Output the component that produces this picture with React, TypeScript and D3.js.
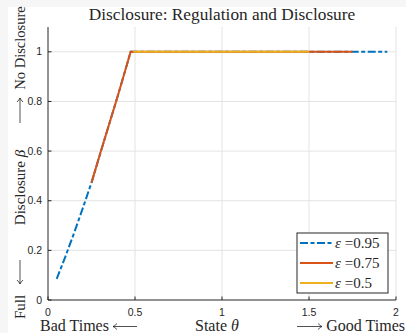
import * as d3 from "d3";
import React from "react";

// data
const thetaBlue = [0.05, 0.1, 0.15, 0.2, 0.25, 0.3, 0.35, 0.4, 0.45, 0.475, 1.95];
const betaBlue = [0.085, 0.175, 0.27, 0.37, 0.473, 0.59, 0.705, 0.82, 0.94, 1, 1];
const thetaRed = [0.25, 0.3, 0.35, 0.4, 0.45, 0.475, 1.75];
const betaRed = [0.473, 0.59, 0.705, 0.82, 0.94, 1, 1];
const thetaYellow = [0.49, 1.5];
const betaYellow = [1, 1];

const xTicks = [0, 0.5, 1, 1.5, 2];
const yTicks = [0, 0.2, 0.4, 0.6, 0.8, 1];
const legendLabels = ["=0.95", "=0.75", "=0.5"];

const colors = ["#0072BD", "#D95319", "#EDB120"];
const dashes = ["8,2.5,4,2.5", null, null];

const W = 406;
const H = 333;
const margin = { top: 27, right: 10, bottom: 33, left: 48 };
const serif = "'Liberation Serif', 'DejaVu Serif', serif";
const sans = "'Liberation Sans', Arial, sans-serif";
const ink = "#262626";

// long arrow (like \longleftarrow), drawn from x1 to x2 at height y
function Arrow({ x1, x2, y, dir }: { x1: number; x2: number; y: number; dir: "l" | "r" }) {
  const tip = dir === "l" ? x1 : x2;
  const back = dir === "l" ? 4 : -4;
  return (
    <path
      d={`M${x1},${y}H${x2}M${tip + back},${y - 3}Q${tip + back * 0.4},${y - 0.6} ${tip},${y}Q${tip + back * 0.4},${y + 0.6} ${tip + back},${y + 3}`}
      fill="none"
      stroke={ink}
      strokeWidth={0.8}
    />
  );
}

export default function App() {
  const innerW = W - margin.left - margin.right;
  const innerH = H - margin.top - margin.bottom;

  const x = d3.scaleLinear().domain([0, 2]).range([margin.left, margin.left + innerW]);
  const y = d3.scaleLinear().domain([0, 1.1]).range([margin.top + innerH, margin.top]);

  const line = d3
    .line<[number, number]>()
    .x((d) => x(d[0]))
    .y((d) => y(d[1]));

  const series = [
    d3.zip(thetaBlue, betaBlue) as [number, number][],
    d3.zip(thetaRed, betaRed) as [number, number][],
    d3.zip(thetaYellow, betaYellow) as [number, number][],
  ];

  const x0 = x(0);
  const y0 = y(0);

  // legend box
  const lg = { x: 297, y: 233, w: 91, h: 60 };

  return (
    <svg
      width={W}
      height={H}
      style={{ position: "fixed", left: 0, top: 0, display: "block", background: "#fff" }}
    >
      <rect x={0} y={0} width={W} height={7} fill="#f6f6f6" />
      <rect x={0} y={0} width={8} height={H} fill="#f6f6f6" />

      {/* grid */}
      {xTicks.filter((t) => t > 0).map((t) => (
        <line key={"gx" + t} x1={x(t)} x2={x(t)} y1={y(0)} y2={y(1.1)} stroke="#e3e3e3" strokeWidth={1} />
      ))}
      {yTicks.filter((t) => t > 0).map((t) => (
        <line key={"gy" + t} x1={x(0)} x2={x(2)} y1={y(t)} y2={y(t)} stroke="#e3e3e3" strokeWidth={1} />
      ))}

      {/* lines */}
      {series.map((s, i) => (
        <path
          key={"s" + i}
          d={line(s) || ""}
          fill="none"
          stroke={colors[i]}
          strokeWidth={2}
          strokeDasharray={dashes[i] || undefined}
        />
      ))}

      {/* axes */}
      <line x1={x0} x2={x(2)} y1={y0} y2={y0} stroke={ink} strokeWidth={1} />
      <line x1={x0} x2={x0} y1={y0} y2={y(1.1)} stroke={ink} strokeWidth={1} />
      {xTicks.map((t) => (
        <g key={"xt" + t}>
          <line x1={x(t)} x2={x(t)} y1={y0} y2={y0 - 3.5} stroke={ink} />
          <text x={x(t)} y={y0 + 16} textAnchor="middle" fontFamily={sans} fontSize={10.5} fill={ink}>
            {t}
          </text>
        </g>
      ))}
      {yTicks.map((t) => (
        <g key={"yt" + t}>
          <line x1={x0} x2={x0 + 3.5} y1={y(t)} y2={y(t)} stroke={ink} />
          <text x={x0 - 6} y={y(t) + 3.5} textAnchor="end" fontFamily={sans} fontSize={10.5} fill={ink}>
            {t}
          </text>
        </g>
      ))}

      {/* title */}
      <text x={(x0 + x(2)) / 2} y={20} textAnchor="middle" fontFamily={serif} fontSize={17.3} fill={ink}>
        Disclosure: Regulation and Disclosure
      </text>

      {/* x label */}
      <text x={40} y={331} fontFamily={serif} fontSize={16} fill={ink}>
        Bad Times
      </text>
      <Arrow x1={113} x2={137} y={326.5} dir="l" />
      <text x={195} y={331} fontFamily={serif} fontSize={16} fill={ink}>
        State <tspan fontStyle="italic">{"\u03b8"}</tspan>
      </text>
      <Arrow x1={297} x2={322} y={326.5} dir="r" />
      <text x={405} y={331} textAnchor="end" fontFamily={serif} fontSize={16} fill={ink}>
        Good Times
      </text>

      {/* y label */}
      <g transform="translate(25,0) rotate(-90)">
        <text x={-307} y={0} textAnchor="middle" fontFamily={serif} fontSize={15} fill={ink}>
          Full
        </text>
        <Arrow x1={-284} x2={-260} y={-5} dir="l" />
        <text x={-187.5} y={0} textAnchor="middle" fontFamily={serif} fontSize={15} fill={ink}>
          Disclosure <tspan fontStyle="italic">{"\u03b2"}</tspan>
        </text>
        <Arrow x1={-123} x2={-98} y={-5} dir="r" />
        <text x={-48} y={0} textAnchor="middle" fontFamily={serif} fontSize={14.5} fill={ink}>
          No Disclosure
        </text>
      </g>

      {/* legend */}
      <rect x={lg.x} y={lg.y} width={lg.w} height={lg.h} fill="#fff" stroke={ink} strokeWidth={1} />
      {legendLabels.map((lab, i) => (
        <g key={"lg" + i}>
          <line
            x1={lg.x + 3}
            x2={lg.x + 36}
            y1={lg.y + 10 + i * 20}
            y2={lg.y + 10 + i * 20}
            stroke={colors[i]}
            strokeWidth={2}
            strokeDasharray={dashes[i] || undefined}
          />
          <text x={lg.x + 38} y={lg.y + 15 + i * 20} fontFamily={serif} fontSize={15} fill={ink}>
            <tspan fontStyle="italic">{"\u03b5"}</tspan> {lab}
          </text>
        </g>
      ))}
    </svg>
  );
}
